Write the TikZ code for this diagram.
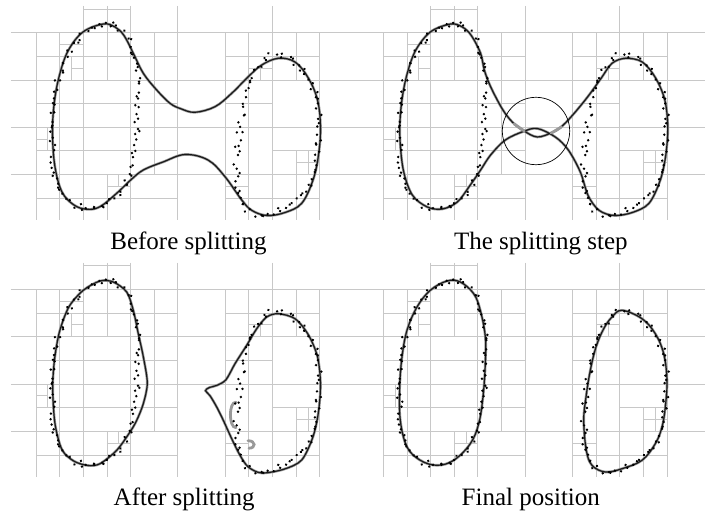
\documentclass[tikz,border=0pt]{standalone}
\usepackage{fontspec}
\setmainfont{Liberation Serif}
\usetikzlibrary{decorations.markings}

\definecolor{gridgray}{RGB}{200,200,200}

% QUADTREE GRID (same in all four panels)
\newcommand{\quadgrid}{%
  \begin{scope}[shift={(36,32.7)}, x=23.65pt, y=-23.65pt]
    \foreach \v in {0,2,4,6}
        \draw[gridline] (-1.06,\v) -- (13.6,\v);
    \foreach \u in {2,4,6,10}
        \draw[gridline] (\u,-1.13) -- (\u,7.92);
    \foreach \u in {0,1,8,9,12}
        \draw[gridline] (\u,0) -- (\u,7.92);
    \foreach \a/\b/\c/\d in {
        3/-1.13/3/2, 3/6/3/7.92, 5/0/5/6, 11/0/11/2, 11/5/11/7.92,
        2/-1/4/-1,
        0/1/6/1, 8/1/12/1,
        0/3/6/3, 8/3/10/3,
        0/5/6/5, 10/5/12/5,
        0/7/6/7, 8/7/12/7,
        1/0.5/2/0.5, 1.5/1/1.5/2, 1.5/1.5/2/1.5,
        0/4.5/0.5/4.5, 0.5/4/0.5/5,
        3/6.5/4/6.5, 3.5/6/3.5/6.5,
        9/1.5/10/1.5, 9.5/1.5/9.5/2,
        11/5.5/12/5.5, 11.5/5/11.5/6,
        8/6.5/9/6.5
    }{
        \draw[gridline] (\a,\b) -- (\c,\d);
    }
  \end{scope}}

% DATA POINTS (two blobs, same seed in every panel)
\newcommand{\datadots}{%
  \pgfmathsetseed{31}%
  \path[decorate, decoration={markings,
      mark=between positions 0 and 1 step 4.6pt with
      {\fill[dotc] ({2.8*rand*1pt},{3*rand*1pt}) circle (1.35pt);}}]
    plot[smooth cycle, tension=0.6] coordinates {
      (99.7,24.3) (113,25.3) (126.4,37) (133,53.6) (138,80) (138,107)
      (135.7,140) (131.4,167) (123,187) (106.4,203.6) (89.7,208.6)
      (73,203.6) (59.7,190.3) (53,163.6) (52.4,130.3) (54.7,100.3)
      (59.7,73.6) (69.7,50.3) (83,33.6)};
  \path[decorate, decoration={markings,
      mark=between positions 0 and 1 step 4.6pt with
      {\fill[dotc] ({2.8*rand*1pt},{3*rand*1pt}) circle (1.35pt);}}]
    plot[smooth cycle, tension=0.6] coordinates {
      (274.7,53.6) (294.7,62) (308,77) (316.4,97) (319.7,123.6)
      (318,150.3) (314.7,170.3) (308,187) (294.7,203.6) (274.7,212)
      (258,215.3) (244.7,208.6) (239,193.6) (236.4,163.6) (238.7,140.3)
      (243,113.6) (248.7,90.3) (256.4,72) (264.7,60.3)};
}

\begin{document}
\begin{tikzpicture}[x=1pt, y=-1pt,
    gridline/.style={draw=gridgray, line width=0.9pt},
    curve/.style={draw=black!90, line width=1.2pt,
        preaction={draw=black!40, line width=2.6pt}},
    blob/.style={draw=black!40, line width=2.8pt, line cap=round},
    dotc/.style={fill=black},
    lbl/.style={font=\fontsize{25}{30}\selectfont, anchor=base, inner sep=0pt}]

    \useasboundingbox (0,0) rectangle (719,521);

    % BEFORE SPLITTING
    \quadgrid
    \draw[curve] plot[smooth cycle, tension=0.6] coordinates {
        (103.3,24) (115,27) (124,35.5) (133.3,53.3) (143.3,73.3) (156.7,90)
        (170,103.3) (181,108.8) (195,112.3) (215,106.7) (231.7,93.3)
        (248.3,76.7) (261.7,65) (278.3,58.3) (295,62) (308.3,78) (317.5,100)
        (320.5,127) (318.5,155) (313,180) (301.7,203.3) (285,212.5)
        (267,215.5) (252,210.5) (241.7,200) (225,176.7) (208,160)
        (185,154.5) (163,162) (143.3,170) (130.7,180) (116.7,193.3)
        (100,206.7) (87,209.3) (74,205) (62,192) (55,167) (52.5,135)
        (54,105) (59,77) (68,51) (83,32)};
    \datadots
    \node[lbl] (capBefore) at (188.5,249) {Before splitting};

    % THE SPLITTING STEP
    \begin{scope}[shift={(347.3,0)}]
        \quadgrid
        \draw[curve] plot[smooth cycle, tension=0.55] coordinates {
            (103.3,24) (115,27) (124,35.5) (133.3,53.3) (137,70) (143.3,86.7)
            (155,109) (165,122) (176,130.5) (190,137) (206,132) (216,125)
            (228,112) (241,96) (254,78) (264.7,63.3) (278.3,58.3) (295,62)
            (308.3,78) (317.5,100) (320.5,127) (318.5,155) (313,180)
            (301.7,203.3) (285,212.5) (267,215.5) (252,210.5) (241,196)
            (233,172) (221,150) (208,137) (190,128.5) (176,131.5) (158,140)
            (143.3,155) (133.3,170) (123,185) (110,202) (95,209) (80,207)
            (65,195) (56,170) (52.5,135) (54,105) (59,77) (68,51) (83,32)};
        \draw[blob] (167,124) -- (177,131);
        \draw[blob] (204,133) -- (214,127);
        \draw[line width=0.7pt] (188.7,131) circle (33.7);
        \datadots
    \end{scope}
    \node[lbl] (capStep) at (540.8,249) {The splitting step};

    % AFTER SPLITTING
    \begin{scope}[shift={(0,256.7)}]
        \quadgrid
        \draw[curve] plot[smooth cycle, tension=0.5] coordinates {
            (100,24.3) (113.3,25.3) (126.7,35.3) (133.3,53.6) (138.3,77)
            (143.3,100) (147.3,126.3) (143.3,147) (136.7,163.6) (130,175.3)
            (116.7,193.6) (100,207) (88,208.8) (74,204.5) (62,193) (55,167)
            (52.7,132) (54.5,103) (59.5,75) (69,50) (83.3,33.6)};
        \draw[curve] plot[smooth cycle, tension=0.5] coordinates {
            (278.3,57) (295,62) (308.3,78) (317.5,100) (320.5,127)
            (318.5,155) (313,180) (301.7,203.3) (284,212.5) (261.7,216.3)
            (248.3,210.3) (240,198.6) (231.7,182) (223.3,163.6) (216.7,150.3)
            (210,139) (205.5,134) (209,131) (217,128.6) (226,123)
            (235,107) (246.7,88.6) (256.7,72) (266.7,60.3)};
        \draw[blob] (236,145.5) .. controls (228.5,145) and (228.5,171) .. (236,171);
        \draw[blob] (248,184) .. controls (256,184) and (256,191.5) .. (249,191.5);
        \datadots
    \end{scope}
    \node[lbl] (capAfter) at (184.2,505.7) {After splitting};

    % FINAL POSITION
    \begin{scope}[shift={(347.3,256.7)}]
        \quadgrid
        \draw[curve] plot[smooth cycle, tension=0.6] coordinates {
            (99.7,24.3) (113,25.3) (126.4,37) (133,53.6) (138,80) (138,107)
            (135.7,140) (131.4,167) (123,187) (106.4,203.6) (89.7,208.6)
            (73,203.6) (59.7,190.3) (53,163.6) (52.4,130.3) (54.7,100.3)
            (59.7,73.6) (69.7,50.3) (83,33.6)};
        \draw[curve] plot[smooth cycle, tension=0.6] coordinates {
            (274.7,53.6) (294.7,62) (308,77) (316.4,97) (319.7,123.6)
            (318,150.3) (314.7,170.3) (308,187) (294.7,203.6) (274.7,212)
            (258,215.3) (244.7,208.6) (239,193.6) (236.4,163.6) (238.7,140.3)
            (243,113.6) (248.7,90.3) (256.4,72) (264.7,60.3)};
        \datadots
    \end{scope}
    \node[lbl] (capFinal) at (530.8,505.7) {Final position};

\end{tikzpicture}
\end{document}
